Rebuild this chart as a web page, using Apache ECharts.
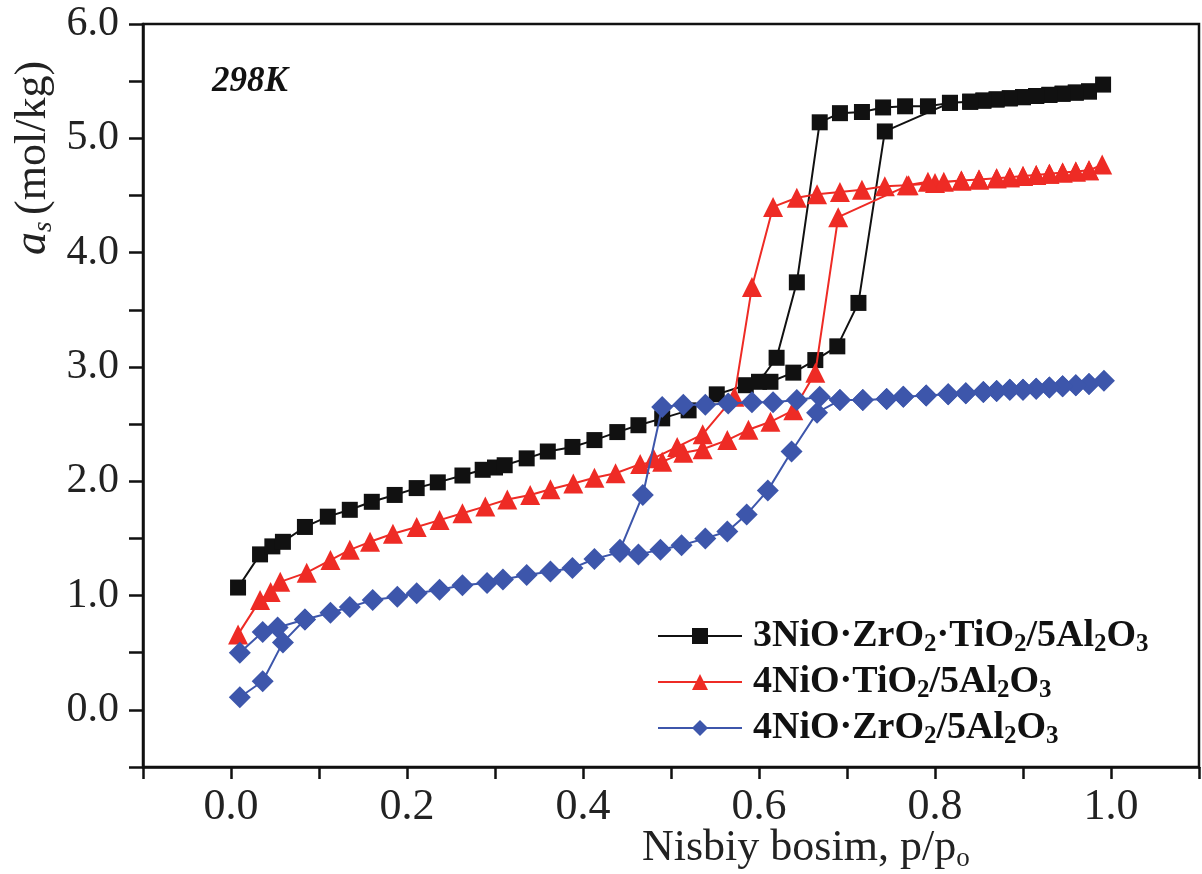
<!DOCTYPE html>
<html>
<head>
<meta charset="utf-8">
<script src="https://cdn.jsdelivr.net/npm/echarts@6/dist/echarts.min.js"></script>
<style>
  html, body { margin: 0; padding: 0; background: #fff; }
  #main { width: 1202px; height: 874px; }
</style>
</head>
<body>
<div id="main"></div>
<script>
// tick labels
const xTickLabels = ['0.0', '0.2', '0.4', '0.6', '0.8', '1.0'];
const yTickLabels = ['0.0', '1.0', '2.0', '3.0', '4.0', '5.0', '6.0'];
// full axis ranges, ticks every step
const xRange = [-0.1, 1.1], xStep = 0.1;
const yRange = [-0.5, 6.0], yStep = 0.5;

const seriesNames = ['3NiO·ZrO2·TiO2/5Al2O3', '4NiO·TiO2/5Al2O3', '4NiO·ZrO2/5Al2O3'];

// 3NiO·ZrO2·TiO2/5Al2O3 (black) - adsorption then desorption
const blackAdsX = [0.008, 0.033, 0.047, 0.059, 0.084, 0.110, 0.135, 0.160, 0.186, 0.211, 0.235, 0.263, 0.286, 0.300, 0.311, 0.336, 0.360, 0.388, 0.413, 0.439, 0.463, 0.490, 0.520, 0.552, 0.585, 0.613, 0.639, 0.664, 0.689, 0.713, 0.743, 0.817, 0.840, 0.855, 0.870, 0.885, 0.900, 0.915, 0.930, 0.945, 0.960, 0.975, 0.991];
const blackAdsY = [1.07, 1.36, 1.43, 1.47, 1.60, 1.69, 1.75, 1.82, 1.88, 1.94, 1.99, 2.05, 2.10, 2.12, 2.14, 2.20, 2.26, 2.30, 2.36, 2.43, 2.49, 2.55, 2.62, 2.76, 2.84, 2.87, 2.95, 3.06, 3.18, 3.56, 5.06, 5.31, 5.32, 5.33, 5.34, 5.35, 5.36, 5.37, 5.38, 5.39, 5.40, 5.41, 5.47];
const blackDesX = [0.975, 0.960, 0.945, 0.930, 0.915, 0.900, 0.885, 0.870, 0.855, 0.840, 0.817, 0.792, 0.766, 0.741, 0.717, 0.692, 0.669, 0.643, 0.620, 0.600];
const blackDesY = [5.41, 5.40, 5.39, 5.38, 5.37, 5.36, 5.35, 5.34, 5.33, 5.32, 5.31, 5.28, 5.28, 5.27, 5.23, 5.22, 5.14, 3.74, 3.08, 2.87];

// 4NiO·TiO2/5Al2O3 (red)
const redAdsX = [0.008, 0.033, 0.045, 0.056, 0.086, 0.113, 0.135, 0.158, 0.184, 0.211, 0.237, 0.263, 0.289, 0.314, 0.340, 0.363, 0.389, 0.413, 0.437, 0.465, 0.490, 0.514, 0.536, 0.564, 0.588, 0.613, 0.639, 0.664, 0.690, 0.770, 0.800, 0.830, 0.850, 0.870, 0.885, 0.900, 0.915, 0.930, 0.945, 0.960, 0.975, 0.990];
const redAdsY = [0.66, 0.96, 1.03, 1.12, 1.20, 1.31, 1.40, 1.47, 1.54, 1.60, 1.66, 1.72, 1.78, 1.84, 1.88, 1.93, 1.98, 2.03, 2.07, 2.15, 2.17, 2.25, 2.28, 2.36, 2.45, 2.52, 2.62, 2.95, 4.31, 4.59, 4.61, 4.63, 4.64, 4.65, 4.66, 4.67, 4.68, 4.69, 4.70, 4.71, 4.72, 4.77];
const redDesX = [0.975, 0.960, 0.945, 0.930, 0.915, 0.900, 0.885, 0.870, 0.850, 0.830, 0.810, 0.792, 0.768, 0.743, 0.717, 0.692, 0.666, 0.643, 0.616, 0.592, 0.572, 0.536, 0.507, 0.480];
const redDesY = [4.72, 4.71, 4.70, 4.69, 4.68, 4.67, 4.66, 4.65, 4.64, 4.63, 4.62, 4.62, 4.59, 4.58, 4.55, 4.53, 4.51, 4.48, 4.40, 3.70, 2.74, 2.41, 2.30, 2.20];

// 4NiO·ZrO2/5Al2O3 (blue)
const blueAdsX = [0.010, 0.036, 0.053, 0.084, 0.113, 0.135, 0.161, 0.189, 0.211, 0.237, 0.263, 0.291, 0.309, 0.336, 0.363, 0.388, 0.413, 0.442, 0.463, 0.488, 0.512, 0.539, 0.564, 0.586, 0.610, 0.637, 0.666, 0.692, 0.718, 0.745, 0.764, 0.790, 0.815, 0.835, 0.855, 0.870, 0.885, 0.900, 0.915, 0.930, 0.945, 0.960, 0.975, 0.992];
const blueAdsY = [0.50, 0.68, 0.72, 0.79, 0.85, 0.90, 0.96, 0.99, 1.02, 1.05, 1.09, 1.11, 1.14, 1.18, 1.21, 1.24, 1.32, 1.38, 1.36, 1.40, 1.44, 1.50, 1.56, 1.71, 1.92, 2.26, 2.60, 2.71, 2.71, 2.72, 2.74, 2.75, 2.76, 2.77, 2.78, 2.79, 2.80, 2.80, 2.81, 2.82, 2.83, 2.84, 2.85, 2.88];
const blueDesX = [0.975, 0.960, 0.945, 0.930, 0.915, 0.900, 0.885, 0.870, 0.855, 0.835, 0.815, 0.790, 0.764, 0.745, 0.718, 0.692, 0.669, 0.643, 0.616, 0.592, 0.565, 0.539, 0.514, 0.490, 0.468, 0.442];
const blueDesY = [2.85, 2.84, 2.83, 2.82, 2.81, 2.80, 2.80, 2.79, 2.78, 2.77, 2.76, 2.75, 2.74, 2.72, 2.71, 2.71, 2.74, 2.71, 2.69, 2.69, 2.68, 2.67, 2.67, 2.65, 1.88, 1.40];
const blueLowX = [0.010, 0.036, 0.059, 0.084];
const blueLowY = [0.11, 0.25, 0.59, 0.79];

const zip = (xs, ys) => xs.map((x, i) => [x, ys[i]]);

const serif = "'Liberation Serif', 'Times New Roman', serif";
const colors = ['#111111', '#ee2b25', '#3d56ab'];

// legend label -> rich text with subscripts
const subName = n => n.split(/(?<=[A-Za-z])(\d)/)
  .map((p, i) => i % 2 ? '{s|' + p + '}' : (p ? '{b|' + p + '}' : ''))
  .join('');

// only the listed tick labels are written, other ticks stay bare
const labelOf = list => v => {
  const s = (Math.round(v * 10) / 10).toFixed(1);
  return list.indexOf(s) >= 0 ? s : '';
};

function lineSeries(name, data, idx, symbol, size) {
  return {
    name: name,
    type: 'line',
    data: data,
    symbol: symbol,
    symbolSize: size,
    showSymbol: true,
    lineStyle: { color: colors[idx], width: 2 },
    itemStyle: { color: colors[idx] },
    z: 3 + idx
  };
}

var myChart = echarts.init(document.getElementById('main'));
var option;

option = {
  animation: false,
  grid: {
    left: 143, right: 3, top: 24, bottom: 107,
    show: true, borderColor: '#111', borderWidth: 2.5
  },
  legend: {
    data: seriesNames,
    orient: 'vertical',
    left: 652, top: 612,
    itemWidth: 84, itemHeight: 20, itemGap: 6,
    formatter: subName,
    textStyle: {
      color: '#111',
      padding: [0, 0, 0, 6],
      rich: {
        b: { fontFamily: serif, fontWeight: 'bold', fontSize: 38, lineHeight: 42, color: '#111' },
        s: { fontFamily: serif, fontWeight: 'bold', fontSize: 25, lineHeight: 24, verticalAlign: 'bottom', color: '#111' }
      }
    }
  },
  xAxis: {
    type: 'value', min: xRange[0], max: xRange[1], interval: xStep,
    axisLine: { show: true, onZero: false, lineStyle: { color: '#111', width: 2.5 } },
    axisTick: { show: true, length: 12, lineStyle: { color: '#111', width: 2.5 } },
    axisLabel: {
      margin: 18,
      formatter: labelOf(xTickLabels),
      fontFamily: serif, fontSize: 44, color: '#222'
    },
    splitLine: { show: false }
  },
  yAxis: {
    type: 'value', min: yRange[0], max: yRange[1], interval: yStep,
    axisLine: { show: true, onZero: false, lineStyle: { color: '#111', width: 2.5 } },
    axisTick: { show: true, length: 14, lineStyle: { color: '#111', width: 2.5 } },
    axisLabel: {
      margin: 24,
      formatter: labelOf(yTickLabels),
      fontFamily: serif, fontSize: 42, color: '#222'
    },
    splitLine: { show: true, lineStyle: { color: 'rgba(0,0,0,0)' } }
  },
  graphic: [
    {
      type: 'text', left: 212, top: 64,
      style: { text: '298K', fontFamily: serif, fontSize: 35, fontStyle: 'italic', fontWeight: 'bold', fill: '#111' }
    },
    {
      type: 'text', left: 642, top: 826,
      style: {
        text: '{n|Nisbiy bosim, p/p}{o|o}',
        rich: {
          n: { fontFamily: serif, fontSize: 44, lineHeight: 48, fill: '#222' },
          o: { fontFamily: serif, fontSize: 27, lineHeight: 26, verticalAlign: 'bottom', fill: '#222' }
        }
      }
    },
    {
      type: 'text', x: 33, y: 158, rotation: Math.PI / 2,
      style: {
        text: '{a|a}{s|s}  {m|(mol/kg)}',
        align: 'center', verticalAlign: 'middle',
        rich: {
          a: { fontFamily: serif, fontSize: 46, fontStyle: 'italic', lineHeight: 48, fill: '#222' },
          s: { fontFamily: serif, fontSize: 27, fontStyle: 'italic', lineHeight: 26, verticalAlign: 'bottom', fill: '#222' },
          m: { fontFamily: serif, fontSize: 44, lineHeight: 48, fill: '#222' }
        }
      }
    }
  ],
  series: [
    lineSeries(seriesNames[0], zip(blackAdsX, blackAdsY).concat(zip(blackDesX, blackDesY)), 0, 'rect', 16),
    lineSeries(seriesNames[1], zip(redAdsX, redAdsY).concat(zip(redDesX, redDesY)), 1, 'triangle', 20),
    lineSeries(seriesNames[2], zip(blueAdsX, blueAdsY).concat(zip(blueDesX, blueDesY)), 2, 'diamond', 22),
    lineSeries(seriesNames[2], zip(blueLowX, blueLowY), 2, 'diamond', 22)
  ]
};

option && myChart.setOption(option);
</script>
</body>
</html>
